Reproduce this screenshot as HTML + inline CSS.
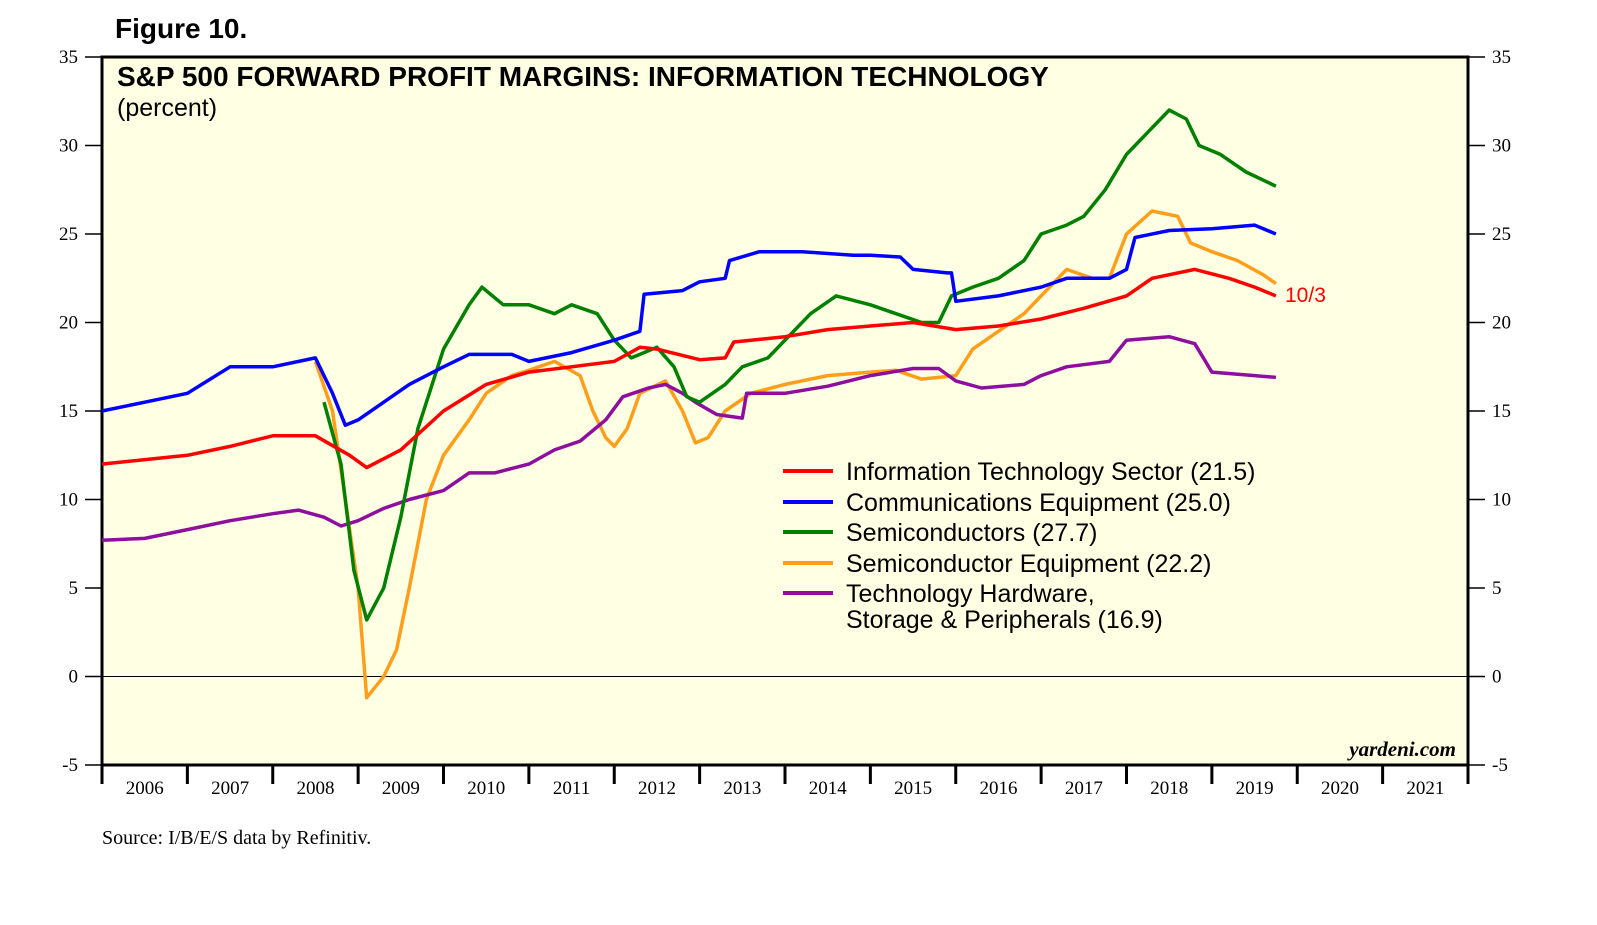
<!DOCTYPE html>
<html><head><meta charset="utf-8"><style>
body{margin:0;background:#fff;width:1597px;height:925px;overflow:hidden}
svg{display:block}
</style></head><body>
<svg id="chart" width="1597" height="925">
<text x="115" y="38" font-family="Liberation Sans, sans-serif" font-weight="bold" font-size="28">Figure 10.</text>
<rect x="102" y="57" width="1366" height="708" fill="#FFFFE3" stroke="#000" stroke-width="3"/>
<text x="117" y="86" font-family="Liberation Sans, sans-serif" font-weight="bold" font-size="28">S&amp;P 500 FORWARD PROFIT MARGINS: INFORMATION TECHNOLOGY</text>
<text x="117" y="116" font-family="Liberation Sans, sans-serif" font-size="25">(percent)</text>
<g id="axes"></g>
<g id="series"></g>
<text x="1285" y="302" fill="#f00" font-family="Liberation Sans, sans-serif" font-size="21">10/3</text>
<text x="1456" y="756" text-anchor="end" font-family="Liberation Serif, serif" font-style="italic" font-weight="bold" font-size="21">yardeni.com</text>
<text x="102" y="844" font-family="Liberation Serif, serif" font-size="20">Source: I/B/E/S data by Refinitiv.</text>
<g id="legend"></g>
</svg>
<script>
const yTicks=[-5,0,5,10,15,20,25,30,35];
const xYears=[2006,2007,2008,2009,2010,2011,2012,2013,2014,2015,2016,2017,2018,2019,2020,2021];
const itT=[2006,2007,2007.5,2008,2008.5,2008.9,2009.1,2009.5,2010,2010.5,2011,2011.5,2012,2012.3,2012.5,2013,2013.3,2013.4,2014,2014.5,2015,2015.5,2016,2016.5,2017,2017.5,2018,2018.3,2018.8,2019.2,2019.5,2019.75];
const itV=[12,12.5,13,13.6,13.6,12.5,11.8,12.8,15,16.5,17.2,17.5,17.8,18.6,18.5,17.9,18,18.9,19.2,19.6,19.8,20,19.6,19.8,20.2,20.8,21.5,22.5,23,22.5,22,21.5];
const ceT=[2006,2006.5,2007,2007.5,2008,2008.5,2008.7,2008.85,2009,2009.3,2009.6,2010,2010.3,2010.8,2011,2011.5,2012,2012.3,2012.35,2012.8,2013,2013.3,2013.35,2013.7,2014.2,2014.8,2015,2015.35,2015.5,2015.9,2015.95,2016,2016.5,2017,2017.3,2017.8,2018,2018.1,2018.5,2019,2019.5,2019.75];
const ceV=[15,15.5,16,17.5,17.5,18,16,14.2,14.5,15.5,16.5,17.5,18.2,18.2,17.8,18.3,19,19.5,21.6,21.8,22.3,22.5,23.5,24,24,23.8,23.8,23.7,23,22.8,22.8,21.2,21.5,22,22.5,22.5,23,24.8,25.2,25.3,25.5,25];
const scT=[2008.6,2008.8,2008.95,2009.1,2009.3,2009.5,2009.7,2010,2010.3,2010.45,2010.7,2011,2011.3,2011.5,2011.8,2012,2012.2,2012.5,2012.7,2012.85,2013,2013.3,2013.5,2013.8,2014,2014.3,2014.6,2015,2015.3,2015.6,2015.8,2015.95,2016.2,2016.5,2016.8,2017,2017.3,2017.5,2017.75,2018,2018.3,2018.5,2018.7,2018.85,2019.1,2019.4,2019.75];
const scV=[15.5,12,6,3.2,5,9,14,18.5,21,22,21,21,20.5,21,20.5,19,18,18.6,17.5,15.8,15.5,16.5,17.5,18,19,20.5,21.5,21,20.5,20,20,21.5,22,22.5,23.5,25,25.5,26,27.5,29.5,31,32,31.5,30,29.5,28.5,27.7];
const seT=[2008.5,2008.7,2008.85,2009,2009.1,2009.3,2009.45,2009.6,2009.8,2010,2010.3,2010.5,2010.8,2011,2011.3,2011.6,2011.75,2011.9,2012,2012.15,2012.3,2012.6,2012.8,2012.95,2013.1,2013.3,2013.6,2014,2014.5,2015,2015.3,2015.6,2016,2016.2,2016.5,2016.8,2017,2017.3,2017.6,2017.8,2018,2018.3,2018.6,2018.75,2019,2019.3,2019.6,2019.75];
const seV=[17.8,15,10,5,-1.2,0,1.5,5,10,12.5,14.5,16,17,17.3,17.8,17,15,13.5,13,14,16,16.7,15,13.2,13.5,15,16,16.5,17,17.2,17.3,16.8,17,18.5,19.5,20.5,21.5,23,22.5,22.5,25,26.3,26,24.5,24,23.5,22.7,22.2];
const thT=[2006,2006.5,2007,2007.5,2008,2008.3,2008.6,2008.8,2009,2009.3,2009.6,2010,2010.3,2010.6,2011,2011.3,2011.6,2011.9,2012.1,2012.4,2012.6,2012.8,2012.95,2013.2,2013.5,2013.55,2014,2014.5,2015,2015.5,2015.8,2016,2016.3,2016.8,2017,2017.3,2017.8,2018,2018.5,2018.8,2019,2019.5,2019.75];
const thV=[7.7,7.8,8.3,8.8,9.2,9.4,9.0,8.5,8.8,9.5,10,10.5,11.5,11.5,12,12.8,13.3,14.5,15.8,16.3,16.5,16,15.5,14.8,14.6,16,16,16.4,17,17.4,17.4,16.7,16.3,16.5,17,17.5,17.8,19,19.2,18.8,17.2,17,16.9];
const names=["Information Technology Sector (21.5)","Communications Equipment (25.0)","Semiconductors (27.7)","Semiconductor Equipment (22.2)","Technology Hardware,"];
const NS="http://www.w3.org/2000/svg";
const X0=102,X1=1468,Y0=765,Y1=57;
const xs=t=>X0+(t-2006)/16*(X1-X0);
const ys=v=>Y0-(v+5)/40*(Y0-Y1);
function mk(tag,attrs,parent){const e=document.createElementNS(NS,tag);for(const k in attrs)e.setAttribute(k,attrs[k]);parent.appendChild(e);return e;}
const ax=document.getElementById('axes');
yTicks.forEach(v=>{
  const y=ys(v);
  const l=mk('line',{x1:85,x2:102,y1:y,y2:y,stroke:'#000','stroke-width':1.5},ax);
  
  
  const r=mk('line',{x1:1468,x2:1485,y1:y,y2:y,stroke:'#000','stroke-width':1.5},ax);
  
  
  const t1=mk('text',{x:78,y:y+6,'text-anchor':'end','font-family':'Liberation Serif, serif','font-size':19},ax);t1.textContent=v;
  
  
  const t2=mk('text',{x:1492,y:y+6,'font-family':'Liberation Serif, serif','font-size':19},ax);t2.textContent=v;
  
  
});
const z=mk('line',{x1:X0,x2:X1,y1:ys(0),y2:ys(0),stroke:'#000','stroke-width':1},ax);


xYears.concat([2022]).forEach(yr=>{
  const x=xs(yr);
  const l=mk('line',{x1:x,x2:x,y1:765,y2:784,stroke:'#000','stroke-width':3},ax);
  
  
});
xYears.forEach(yr=>{
  const t=mk('text',{x:xs(yr+0.5),y:794,'text-anchor':'middle','font-family':'Liberation Serif, serif','font-size':19},ax);t.textContent=yr;
  
  
});
const sg=document.getElementById('series');
const series=[[seT,seV,'#FF9E1B','semiconductor-equipment-line'],[thT,thV,'#8E0E9E','tech-hardware-line'],[scT,scV,'#008000','semiconductors-line'],[ceT,ceV,'#0000FF','communications-equipment-line'],[itT,itV,'#FF0000','it-sector-line']];
series.forEach(([T,V,c,n])=>{
  const d=T.map((t,i)=>(i?'L':'M')+xs(t).toFixed(1)+','+ys(V[i]).toFixed(1)).join('');
  const p=mk('path',{d:d,fill:'none',stroke:c,'stroke-width':3.5,'stroke-linejoin':'round'},sg);
  
  
});
const lg=document.getElementById('legend');
const lc=['#FF0000','#0000FF','#008000','#FF9E1B','#8E0E9E'];
const ly=[471,502,532,563,593];
names.forEach((nm,i)=>{
  const l=mk('line',{x1:783,x2:833,y1:ly[i],y2:ly[i],stroke:lc[i],'stroke-width':4},lg);
  
  
  const t=mk('text',{x:846,y:ly[i]+9,'font-family':'Liberation Sans, sans-serif','font-size':25},lg);t.textContent=nm;
  
  
});
const t2=mk('text',{x:846,y:628,'font-family':'Liberation Sans, sans-serif','font-size':25},lg);t2.textContent='Storage & Peripherals (16.9)';


</script>
</body></html>
